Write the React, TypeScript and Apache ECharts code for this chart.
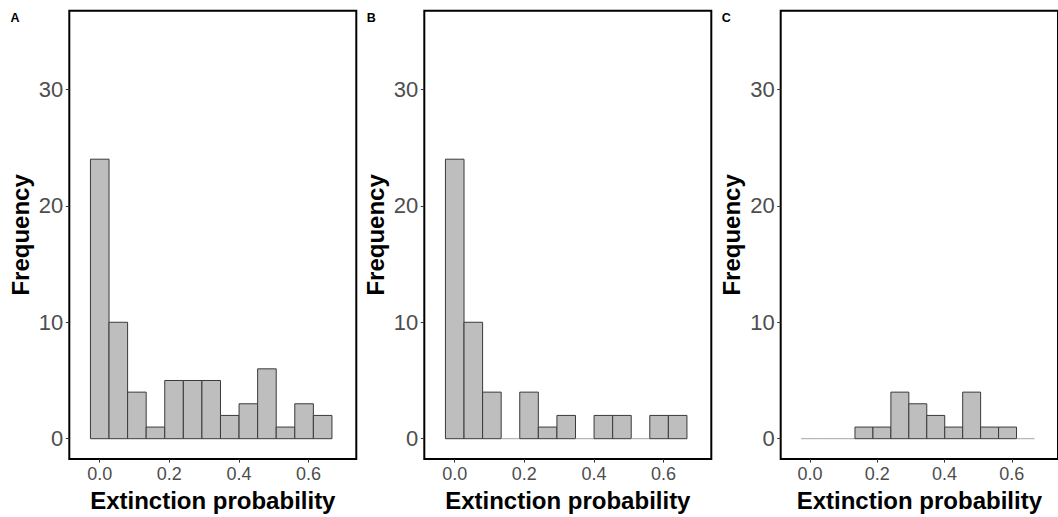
import React, { useEffect, useRef } from "react";
import * as echarts from "echarts";

const binCenters = [0.0, 0.0534, 0.1068, 0.1602, 0.2136, 0.267, 0.3204, 0.3738, 0.4272, 0.4806, 0.534, 0.5874, 0.6408];
const binWidth = 0.0534;
const countsA = [24, 10, 4, 1, 5, 5, 5, 2, 3, 6, 1, 3, 2];
const countsB = [24, 10, 4, 0, 4, 1, 2, 0, 2, 2, 0, 2, 2];
const countsC = [0, 0, 0, 1, 1, 4, 3, 2, 1, 4, 1, 1, 0];
const panelLabels = ["A", "B", "C"];
const xTicks = [0, 0.2, 0.4, 0.6];
const yTicks = [0, 10, 20, 30];
const xTitle = "Extinction probability";
const yTitle = "Frequency";

const FONT = "'Liberation Sans', Arial, sans-serif";

export default function App() {
  const ref = useRef<HTMLDivElement>(null);
  useEffect(() => {
    if (!ref.current) return;
    const chart = echarts.init(ref.current, undefined, { renderer: "svg" });
    const lefts = [69.3, 424.3, 780.7];
    const labelX = [15.5, 371.7, 726.7];
    const allCounts = [countsA, countsB, countsC];
    const grids = lefts.map((l) => ({
      left: l,
      top: 10.7,
      width: 287,
      height: 452.3,
      show: true,
      borderColor: "#000",
      borderWidth: 2,
      backgroundColor: "transparent",
      containLabel: false,
    }));
    const xAxes = lefts.map((_, i) => ({
      type: "value",
      gridIndex: i,
      position: "bottom",
      min: -0.0875,
      max: 0.7375,
      splitLine: { show: false },
      axisLine: { show: false, onZero: false },
      axisTick: { show: true, customValues: xTicks, length: 3.5, lineStyle: { color: "#333", width: 1 } },
      axisLabel: {
        customValues: xTicks,
        formatter: (v: number) => v.toFixed(1),
        color: "#4d4d4d",
        fontSize: 18,
        fontFamily: FONT,
        margin: 6,
      },
      name: xTitle,
      nameLocation: "middle",
      nameGap: 25,
      nameTextStyle: { color: "#000", fontSize: 24, fontWeight: "bold", fontFamily: FONT },
    }));
    const yAxes = lefts.map((_, i) => ({
      type: "value",
      gridIndex: i,
      position: "left",
      min: -1.75,
      max: 36.75,
      splitLine: { show: false },
      axisLine: { show: false, onZero: false },
      axisTick: { show: true, customValues: yTicks, length: 3.5, lineStyle: { color: "#333", width: 1 } },
      axisLabel: {
        customValues: yTicks,
        color: "#4d4d4d",
        fontSize: 22,
        fontFamily: FONT,
        margin: 6,
      },
      name: yTitle,
      nameLocation: "middle",
      nameGap: 37,
      nameRotate: 90,
      nameTextStyle: { color: "#000", fontSize: 24, fontWeight: "bold", fontFamily: FONT },
    }));
    const series = allCounts.map((counts, i) => ({
      type: "custom",
      xAxisIndex: i,
      yAxisIndex: i,
      data: binCenters.map((c, j) => [c, counts[j]]),
      encode: { x: 0, y: 1 },
      renderItem: (_params: any, api: any) => {
        const c = api.value(0);
        const v = api.value(1);
        const p0 = api.coord([c - binWidth / 2, 0]);
        const p1 = api.coord([c + binWidth / 2, v]);
        if (v === 0) {
          return {
            type: "line",
            shape: { x1: p0[0], y1: p0[1], x2: p1[0], y2: p0[1] },
            style: { stroke: "#a6a6a6", lineWidth: 1 },
          };
        }
        return {
          type: "rect",
          shape: { x: p0[0], y: p1[1], width: p1[0] - p0[0], height: p0[1] - p1[1] },
          style: { fill: "#bebebe", stroke: "#3a3a3a", lineWidth: 1 },
        };
      },
    }));
    chart.setOption({
      animation: false,
      grid: grids,
      xAxis: xAxes,
      yAxis: yAxes,
      series,
      graphic: panelLabels.map((t, i) => ({
        type: "text",
        left: labelX[i] - 5,
        top: 11,
        style: { text: t, fill: "#000", font: `bold 12.5px ${FONT}` },
      })),
    });
    return () => chart.dispose();
  }, []);
  return (
    <div
      ref={ref}
      style={{ position: "fixed", left: 0, top: 0, width: 1058, height: 517, background: "#fff" }}
    />
  );
}
